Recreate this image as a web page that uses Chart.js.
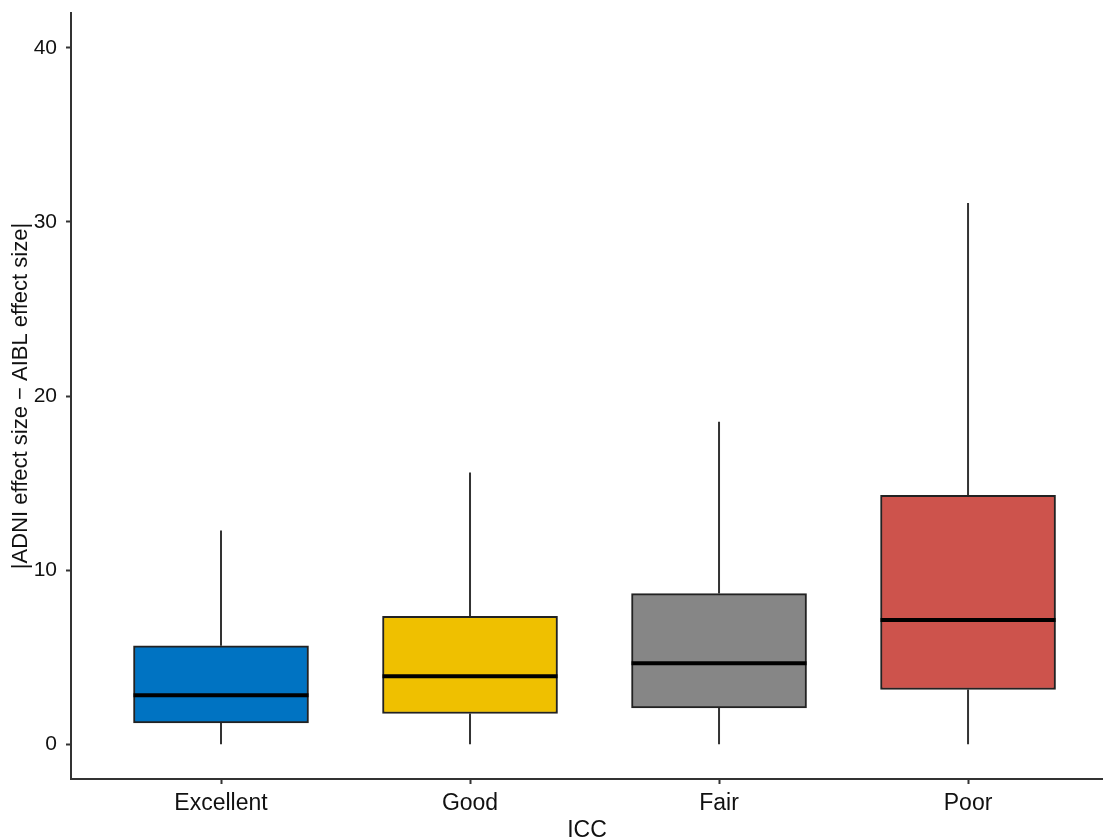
<!DOCTYPE html>
<html>
<head>
<meta charset="utf-8">
<script src="https://cdn.jsdelivr.net/npm/chart.js@4.4.1/dist/chart.umd.min.js"></script>
<style>
  html, body { margin: 0; padding: 0; background: #fff; }
  #chartRef { display: block; }
</style>
</head>
<body>
<canvas id="chartRef" width="1103" height="839"></canvas>
<script>
// box plot data, one entry per ICC category
const categories = ["Excellent", "Good", "Fair", "Poor"];
const whiskerLow = [0, 0, 0, 0];
const q1 = [1.22, 1.76, 2.09, 3.14];
const median = [2.81, 3.9, 4.65, 7.13];
const q3 = [5.65, 7.35, 8.65, 14.29];
const whiskerHigh = [12.28, 15.61, 18.52, 31.09];
const boxColors = ["#0073C2", "#EFC000", "#868686", "#CD534C"];
const yTicks = [0, 10, 20, 30, 40];

document.addEventListener("DOMContentLoaded", () => {
    const chartRef = document.getElementById("chartRef");
    const ctx = chartRef.getContext("2d");

    // whiskers + median lines, drawn with the chart's own scales
    const boxExtras = {
        id: "boxExtras",
        beforeDatasetsDraw(chart) {
            const { x, y } = chart.scales;
            const c = chart.ctx;
            c.save();
            c.strokeStyle = "#333";
            c.lineWidth = 2;
            categories.forEach((_, i) => {
                const px = x.getPixelForValue(i + 1);
                c.beginPath();
                c.moveTo(px, y.getPixelForValue(whiskerHigh[i]));
                c.lineTo(px, y.getPixelForValue(q3[i]));
                c.moveTo(px, y.getPixelForValue(q1[i]));
                c.lineTo(px, y.getPixelForValue(whiskerLow[i]));
                c.stroke();
            });
            c.restore();
        },
        afterDatasetsDraw(chart) {
            const { y } = chart.scales;
            const meta = chart.getDatasetMeta(0);
            const c = chart.ctx;
            c.save();
            c.strokeStyle = "#000";
            c.lineWidth = 4;
            meta.data.forEach((bar, i) => {
                const half = bar.width / 2;
                const py = y.getPixelForValue(median[i]);
                c.beginPath();
                c.moveTo(bar.x - half, py);
                c.lineTo(bar.x + half, py);
                c.stroke();
            });
            c.restore();
        },
    };

    new Chart(ctx, {
        type: "bar",
        data: {
            datasets: [
                {
                    data: categories.map((_, i) => ({ x: i + 1, y: [q1[i], q3[i]] })),
                    backgroundColor: boxColors,
                    borderColor: "#222",
                    borderWidth: 2,
                    borderSkipped: false,
                    barThickness: 175,
                },
            ],
        },
        options: {
            responsive: false,
            animation: false,
            layout: { padding: { top: 13, right: 0, left: 0, bottom: 0 } },
            plugins: {
                legend: { display: false },
                tooltip: { enabled: false },
            },
            scales: {
                x: {
                    type: "linear",
                    offset: false,
                    min: 0.3976,
                    max: 4.542,
                    afterBuildTicks: (scale) => {
                        scale.ticks = categories.map((_, i) => ({ value: i + 1 }));
                    },
                    afterFit: (scale) => {
                        scale.height = 60;
                        scale.paddingLeft = 0;
                        scale.paddingRight = 0;
                    },
                    ticks: {
                        autoSkip: false,
                        maxRotation: 0,
                        padding: 6,
                        color: "#111",
                        font: { family: "Liberation Sans", size: 23 },
                        callback: (value) => categories[value - 1],
                    },
                    grid: {
                        offset: false,
                        drawOnChartArea: false,
                        drawTicks: true,
                        tickLength: 5,
                        tickWidth: 2,
                        tickColor: "#333",
                    },
                    border: { display: true, color: "#333", width: 2 },
                    title: {
                        display: true,
                        text: "ICC",
                        color: "#111",
                        font: { family: "Liberation Sans", size: 23 },
                        padding: { top: 0, bottom: -5 },
                    },
                },
                y: {
                    min: -2,
                    max: 42,
                    afterBuildTicks: (scale) => {
                        scale.ticks = yTicks.map((v) => ({ value: v }));
                    },
                    afterFit: (scale) => {
                        scale.width = 71;
                        scale.paddingTop = 0;
                        scale.paddingBottom = 0;
                    },
                    ticks: {
                        padding: 9,
                        color: "#111",
                        font: { family: "Liberation Sans", size: 21 },
                    },
                    grid: {
                        drawOnChartArea: false,
                        drawTicks: true,
                        tickLength: 5,
                        tickWidth: 2,
                        tickColor: "#333",
                    },
                    border: { display: true, color: "#333", width: 2 },
                    title: {
                        display: true,
                        text: "|ADNI effect size \u2212 AIBL effect size|",
                        color: "#111",
                        font: { family: "Liberation Sans", size: 22 },
                        padding: { top: 8, bottom: 0 },
                    },
                },
            },
        },
        plugins: [boxExtras],
    });
});
</script>
</body>
</html>
